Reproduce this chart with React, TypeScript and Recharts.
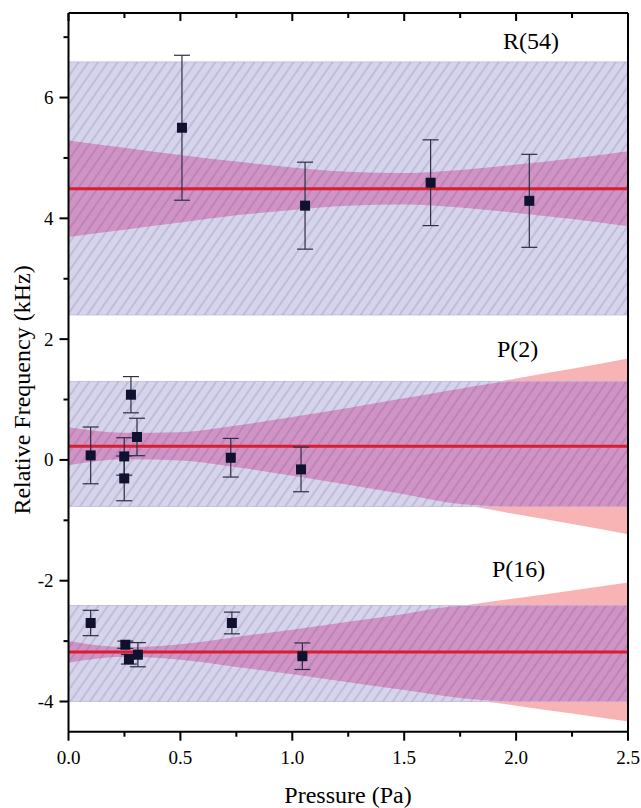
import React from 'react';
import {
  ComposedChart,
  Area,
  Scatter,
  ErrorBar,
  XAxis,
  YAxis,
  ReferenceLine,
} from 'recharts';

// pressure grid used for the fit confidence bands
const pressure = [0, 0.25, 0.5, 0.75, 1.0, 1.25, 1.5, 1.75, 2.0, 2.25, 2.5];

// R(54)
const r54Fit = 4.49;
const r54BoxLo = 2.4;
const r54BoxHi = 6.59;
const r54Lo = [3.69, 3.81, 3.93, 4.05, 4.14, 4.21, 4.23, 4.18, 4.09, 3.99, 3.87];
const r54Hi = [5.29, 5.17, 5.05, 4.94, 4.84, 4.77, 4.75, 4.8, 4.89, 4.99, 5.11];
const r54X = [0.507, 1.057, 1.618, 2.059];
const r54Y = [5.5, 4.21, 4.59, 4.29];
const r54Err = [1.2, 0.72, 0.71, 0.77];

// P(2)
const p2Fit = 0.225;
const p2BoxLo = -0.77;
const p2BoxHi = 1.3;
const p2Lo = [-0.09, 0.01, -0.01, -0.12, -0.26, -0.41, -0.57, -0.73, -0.9, -1.06, -1.23];
const p2Hi = [0.54, 0.45, 0.46, 0.57, 0.71, 0.86, 1.02, 1.18, 1.35, 1.51, 1.68];
const p2X = [0.099, 0.249, 0.249, 0.279, 0.306, 0.725, 1.039];
const p2Y = [0.075, 0.058, -0.306, 1.08, 0.38, 0.036, -0.157];
const p2Err = [0.47, 0.31, 0.37, 0.3, 0.31, 0.32, 0.37];

// P(16)
const p16Fit = -3.18;
const p16BoxLo = -4.0;
const p16BoxHi = -2.41;
const p16Lo = [-3.36, -3.26, -3.31, -3.43, -3.55, -3.68, -3.81, -3.94, -4.07, -4.2, -4.33];
const p16Hi = [-3.0, -3.1, -3.05, -2.93, -2.81, -2.68, -2.55, -2.42, -2.29, -2.16, -2.03];
const p16X = [0.099, 0.254, 0.27, 0.31, 0.73, 1.045];
const p16Y = [-2.7, -3.06, -3.3, -3.225, -2.7, -3.25];
const p16Err = [0.21, 0.06, 0.08, 0.2, 0.18, 0.22];

const xTicks = [0, 0.25, 0.5, 0.75, 1, 1.25, 1.5, 1.75, 2, 2.25, 2.5];
const yTicks = [-4, -3, -2, -1, 0, 1, 2, 3, 4, 5, 6, 7];

const font = "'Liberation Serif', 'Times New Roman', serif";

const groups = [
  { key: 'r54', lo: r54Lo, hi: r54Hi, boxLo: r54BoxLo, boxHi: r54BoxHi, fit: r54Fit },
  { key: 'p2', lo: p2Lo, hi: p2Hi, boxLo: p2BoxLo, boxHi: p2BoxHi, fit: p2Fit },
  { key: 'p16', lo: p16Lo, hi: p16Hi, boxLo: p16BoxLo, boxHi: p16BoxHi, fit: p16Fit },
];

const rows = pressure.map((x, i) => {
  const row: any = { x };
  groups.forEach((g) => {
    row[g.key + 'Band'] = [g.lo[i], g.hi[i]];
    row[g.key + 'Box'] = [g.boxLo, g.boxHi];
    row[g.key + 'In'] = [Math.max(g.lo[i], g.boxLo), Math.min(g.hi[i], g.boxHi)];
  });
  return row;
});

const toPoints = (xs: number[], ys: number[], es: number[]) =>
  xs.map((x, i) => ({ x, y: ys[i], err: es[i] }));

const r54Points = toPoints(r54X, r54Y, r54Err);
const p2Points = toPoints(p2X, p2Y, p2Err);
const p16Points = toPoints(p16X, p16Y, p16Err);

const Square = (p: any) => (
  <rect x={p.cx - 5} y={p.cy - 5} width={10} height={10} fill="#10112f" />
);

const isMajorX = (v: number) => Math.abs(v * 2 - Math.round(v * 2)) < 1e-6;

const BottomTick = (p: any) => {
  const v = p.payload.value;
  const major = isMajorX(v);
  return (
    <g>
      <line x1={p.x} x2={p.x} y1={p.y} y2={p.y + (major ? 9 : 5)} stroke="#000" strokeWidth={2} />
      {major && (
        <text x={p.x} y={p.y + 32} textAnchor="middle" fontSize={19} fontFamily={font} fill="#000">
          {v.toFixed(1)}
        </text>
      )}
    </g>
  );
};

const TopTick = (p: any) => {
  const major = isMajorX(p.payload.value);
  return <line x1={p.x} x2={p.x} y1={p.y} y2={p.y + (major ? 8 : 5)} stroke="#000" strokeWidth={2} />;
};

const LeftTick = (p: any) => {
  const v = p.payload.value;
  const major = v % 2 === 0;
  return (
    <g>
      <line x1={p.x - (major ? 9 : 5)} x2={p.x} y1={p.y} y2={p.y} stroke="#000" strokeWidth={2} />
      {major && (
        <text x={p.x - 15} y={p.y} dy="0.34em" textAnchor="end" fontSize={19} fontFamily={font} fill="#000">
          {v}
        </text>
      )}
    </g>
  );
};

const RightTick = (p: any) => {
  const major = p.payload.value % 2 === 0;
  return <line x1={p.x - (major ? 8 : 5)} x2={p.x} y1={p.y} y2={p.y} stroke="#000" strokeWidth={2} />;
};

const labelStyle: React.CSSProperties = { fontFamily: font, fontSize: 24, fill: '#000' };

export default function App() {
  return (
    <div style={{ position: 'absolute', left: 0, top: 0, width: 641, height: 808, background: '#fff' }}>
      <ComposedChart width={641} height={808} data={rows} margin={{ top: 0, right: 0, bottom: 0, left: 0 }}>
        <defs>
          <pattern id="hatch" width="8" height="8" patternUnits="userSpaceOnUse" patternTransform="rotate(35)">
            <line x1="4" y1="0" x2="4" y2="8" stroke="rgba(70,60,140,0.32)" strokeWidth={1} />
          </pattern>
        </defs>
        <XAxis
          xAxisId={0}
          type="number"
          dataKey="x"
          domain={[0, 2.5]}
          ticks={xTicks}
          height={76.3}
          tickSize={0}
          tickMargin={0}
          tickLine={false}
          tick={BottomTick}
          axisLine={{ stroke: '#000', strokeWidth: 2 }}
          interval={0}
        />
        <XAxis
          xAxisId="top"
          orientation="top"
          type="number"
          dataKey="x"
          domain={[0, 2.5]}
          ticks={xTicks}
          height={13}
          tickSize={0}
          tickMargin={0}
          tickLine={false}
          tick={TopTick}
          axisLine={{ stroke: '#000', strokeWidth: 2 }}
          interval={0}
        />
        <YAxis
          yAxisId={0}
          type="number"
          domain={[-4.5, 7.4]}
          ticks={yTicks}
          width={68.5}
          tickSize={0}
          tickMargin={0}
          tickLine={false}
          tick={LeftTick}
          axisLine={{ stroke: '#000', strokeWidth: 2 }}
          interval={0}
          allowDataOverflow
        />
        <YAxis
          yAxisId="right"
          orientation="right"
          type="number"
          domain={[-4.5, 7.4]}
          ticks={yTicks}
          width={13}
          tickSize={0}
          tickMargin={0}
          tickLine={false}
          tick={RightTick}
          axisLine={{ stroke: '#000', strokeWidth: 2 }}
          interval={0}
        />

        {groups.map((g) => (
          <Area
            key={g.key + 'Band'}
            dataKey={g.key + 'Band'}
            type="monotone"
            stroke="none"
            fill="#f8b4b4"
            fillOpacity={1}
            isAnimationActive={false}
            activeDot={false}
          />
        ))}
        {groups.map((g) => (
          <Area
            key={g.key + 'Box'}
            dataKey={g.key + 'Box'}
            type="linear"
            stroke="#c6c3e2"
            strokeWidth={1}
            fill="#d6d4eb"
            fillOpacity={1}
            isAnimationActive={false}
            activeDot={false}
          />
        ))}
        {groups.map((g) => (
          <Area
            key={g.key + 'In'}
            dataKey={g.key + 'In'}
            type="monotone"
            stroke="none"
            fill="#d093c4"
            fillOpacity={1}
            isAnimationActive={false}
            activeDot={false}
          />
        ))}
        {groups.map((g) => (
          <Area
            key={g.key + 'Hatch'}
            dataKey={g.key + 'Box'}
            type="linear"
            stroke="none"
            fill="url(#hatch)"
            fillOpacity={1}
            isAnimationActive={false}
            activeDot={false}
          />
        ))}

        {groups.map((g) => (
          <ReferenceLine key={g.key + 'Fit'} y={g.fit} stroke="#d81e30" strokeWidth={3} />
        ))}

        <Scatter data={r54Points} dataKey="y" shape={Square} isAnimationActive={false}>
          <ErrorBar dataKey="err" direction="y" width={8} stroke="#2e2e45" strokeWidth={1.2} />
        </Scatter>
        <Scatter data={p2Points} dataKey="y" shape={Square} isAnimationActive={false}>
          <ErrorBar dataKey="err" direction="y" width={8} stroke="#2e2e45" strokeWidth={1.2} />
        </Scatter>
        <Scatter data={p16Points} dataKey="y" shape={Square} isAnimationActive={false}>
          <ErrorBar dataKey="err" direction="y" width={8} stroke="#2e2e45" strokeWidth={1.2} />
        </Scatter>
      </ComposedChart>

      <svg width={641} height={808} style={{ position: 'absolute', left: 0, top: 0, pointerEvents: 'none' }}>
        <text x={503} y={49} style={labelStyle}>R(54)</text>
        <text x={497} y={357} style={labelStyle}>P(2)</text>
        <text x={492} y={577} style={labelStyle}>P(16)</text>
        <text x={348} y={803} textAnchor="middle" style={labelStyle}>Pressure (Pa)</text>
        <text transform="translate(30, 390) rotate(-90)" textAnchor="middle" style={labelStyle}>
          Relative Frequency (kHz)
        </text>
      </svg>
    </div>
  );
}
